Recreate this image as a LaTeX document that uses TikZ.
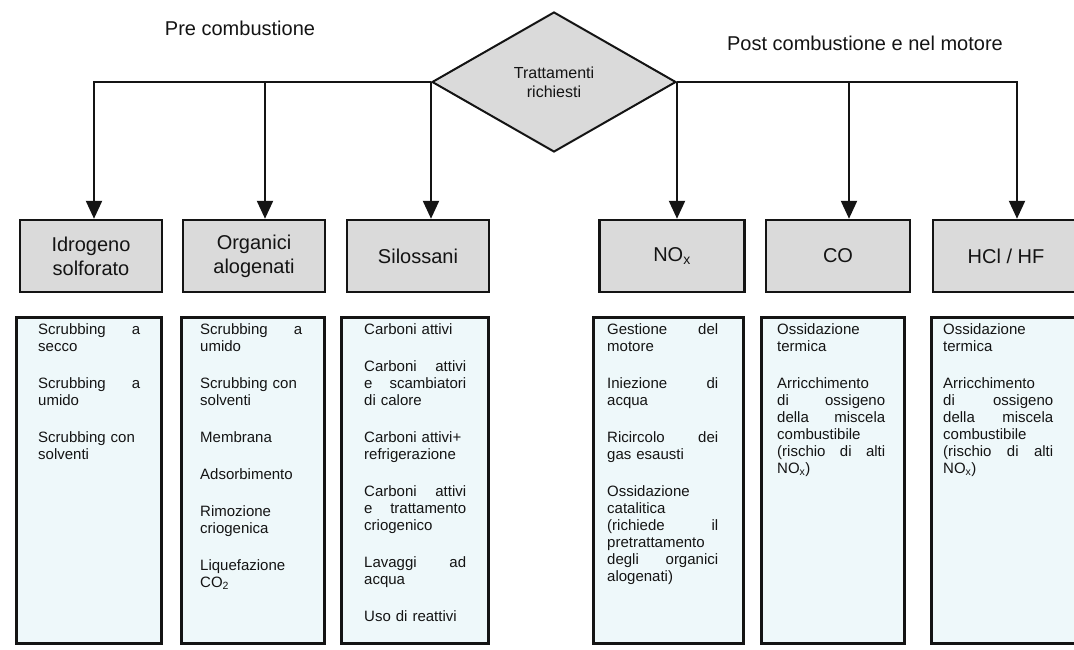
\documentclass[tikz,border=0pt]{standalone}
\usepackage{fontspec}
\setmainfont{Liberation Sans}
\usetikzlibrary{arrows.meta,shapes.geometric,calc}
\definecolor{hdrgray}{HTML}{DADADA}
\definecolor{cfill}{HTML}{EEF8FA}
\definecolor{ink}{HTML}{141414}
\begin{document}
\begin{tikzpicture}[x=1pt,y=-1pt,
  hdr/.style={draw=ink, line width=2.5pt, fill=hdrgray, minimum height=72pt, align=center,
    font=\fontsize{20}{24}\selectfont, text=ink, inner sep=0pt},
  cbox/.style={draw=ink, line width=2.5pt, fill=cfill, anchor=north west, minimum height=326pt, inner sep=0pt},
  ctext/.style={anchor=north west, inner sep=0pt, align=left, font=\fontsize{15}{17}\selectfont, text=ink},
  arr/.style={draw=ink, line width=2.3pt, -{Triangle[length=18pt,width=16pt]}},
  lbl/.style={font=\fontsize{20}{24}\selectfont, text=ink}]
\useasboundingbox (0,0) rectangle (1074,650);
\fill[white] (0,0) rectangle (1074,650);

% titles
\node[lbl] (pre) at (240,28) {Pre combustione};
\node[lbl] (post) at (865,43) {Post combustione e nel motore};

% decision diamond
\node[diamond, draw=ink, fill=hdrgray, line width=2pt, minimum width=244pt, minimum height=140pt,
  inner sep=0pt, align=center, font=\fontsize{16}{19}\selectfont, text=ink] (d) at (554,82) {Trattamenti\\richiesti};

% header boxes
\node[hdr, minimum width=142pt] (h1) at (91,256) {Idrogeno\\solforato};
\node[hdr, minimum width=142pt] (h2) at (254,256) {Organici\\alogenati};
\node[hdr, minimum width=142pt] (h3) at (418,256) {Silossani};
\node[hdr, minimum width=145pt] (h4) at (672,256) {NO\textsubscript{x}};
\node[hdr, minimum width=144pt] (h5) at (838,256) {CO};
\node[hdr, minimum width=146pt] (h6) at (1006,256) {HCl / HF};

% connectors
\draw[arr] (d.west) -| ([xshift=3pt]h1.north);
\draw[arr] (d.west) -| ([xshift=11pt]h2.north);
\draw[arr] (d.west) -- (d.west |- h3.north);
\draw[arr] (d.east) -- (d.east |- h4.north);
\draw[arr] (d.east) -| ([xshift=11pt]h5.north);
\draw[arr] (d.east) -| ([xshift=11pt]h6.north);

% content boxes
\node[cbox, minimum width=145pt] (c1) at (15,316) {};
\node[cbox, minimum width=143pt] (c2) at (180,316) {};
\node[cbox, minimum width=147pt] (c3) at (340,316) {};
\node[cbox, minimum width=150pt] (c4) at (592,316) {};
\node[cbox, minimum width=143pt] (c5) at (760,316) {};
\node[cbox, minimum width=170pt] (c6) at (930,316) {};

% content texts
\node[ctext, text width=102pt] (t1) at (38,323) {%
Scrubbing\hfill a\\secco\\[20pt]
Scrubbing\hfill a\\umido\\[20pt]
Scrubbing con\\solventi};

\node[ctext, text width=102pt] (t2) at (200,323) {%
Scrubbing\hfill a\\umido\\[20pt]
Scrubbing con\\solventi\\[20pt]
Membrana\\[20pt]
Adsorbimento\\[20pt]
Rimozione\\criogenica\\[20pt]
Liquefazione\\CO\textsubscript{2}};

\node[ctext, text width=102pt] (t3) at (364,323) {%
Carboni attivi\\[20pt]
Carboni\hfill attivi\\e\hfill scambiatori\\di calore\\[20pt]
Carboni attivi+\\refrigerazione\\[20pt]
Carboni\hfill attivi\\e\hfill trattamento\\criogenico\\[20pt]
Lavaggi\hfill ad\\acqua\\[20pt]
Uso di reattivi};

\node[ctext, text width=111pt] (t4) at (607,323) {%
Gestione\hfill del\\motore\\[20pt]
Iniezione\hfill di\\acqua\\[20pt]
Ricircolo\hfill dei\\gas esausti\\[20pt]
Ossidazione\\catalitica\\(richiede\hfill il\\pretrattamento\\degli\hfill organici\\alogenati)};

\node[ctext, text width=108pt] (t5) at (777,323) {%
Ossidazione\\termica\\[20pt]
Arricchimento\\di\hfill ossigeno\\della\hfill miscela\\combustibile\\(rischio\hfill di\hfill alti\\NO\textsubscript{x})};

\node[ctext, text width=110pt] (t6) at (943,323) {%
Ossidazione\\termica\\[20pt]
Arricchimento\\di\hfill ossigeno\\della\hfill miscela\\combustibile\\(rischio\hfill di\hfill alti\\NO\textsubscript{x})};
\end{tikzpicture}
\end{document}
